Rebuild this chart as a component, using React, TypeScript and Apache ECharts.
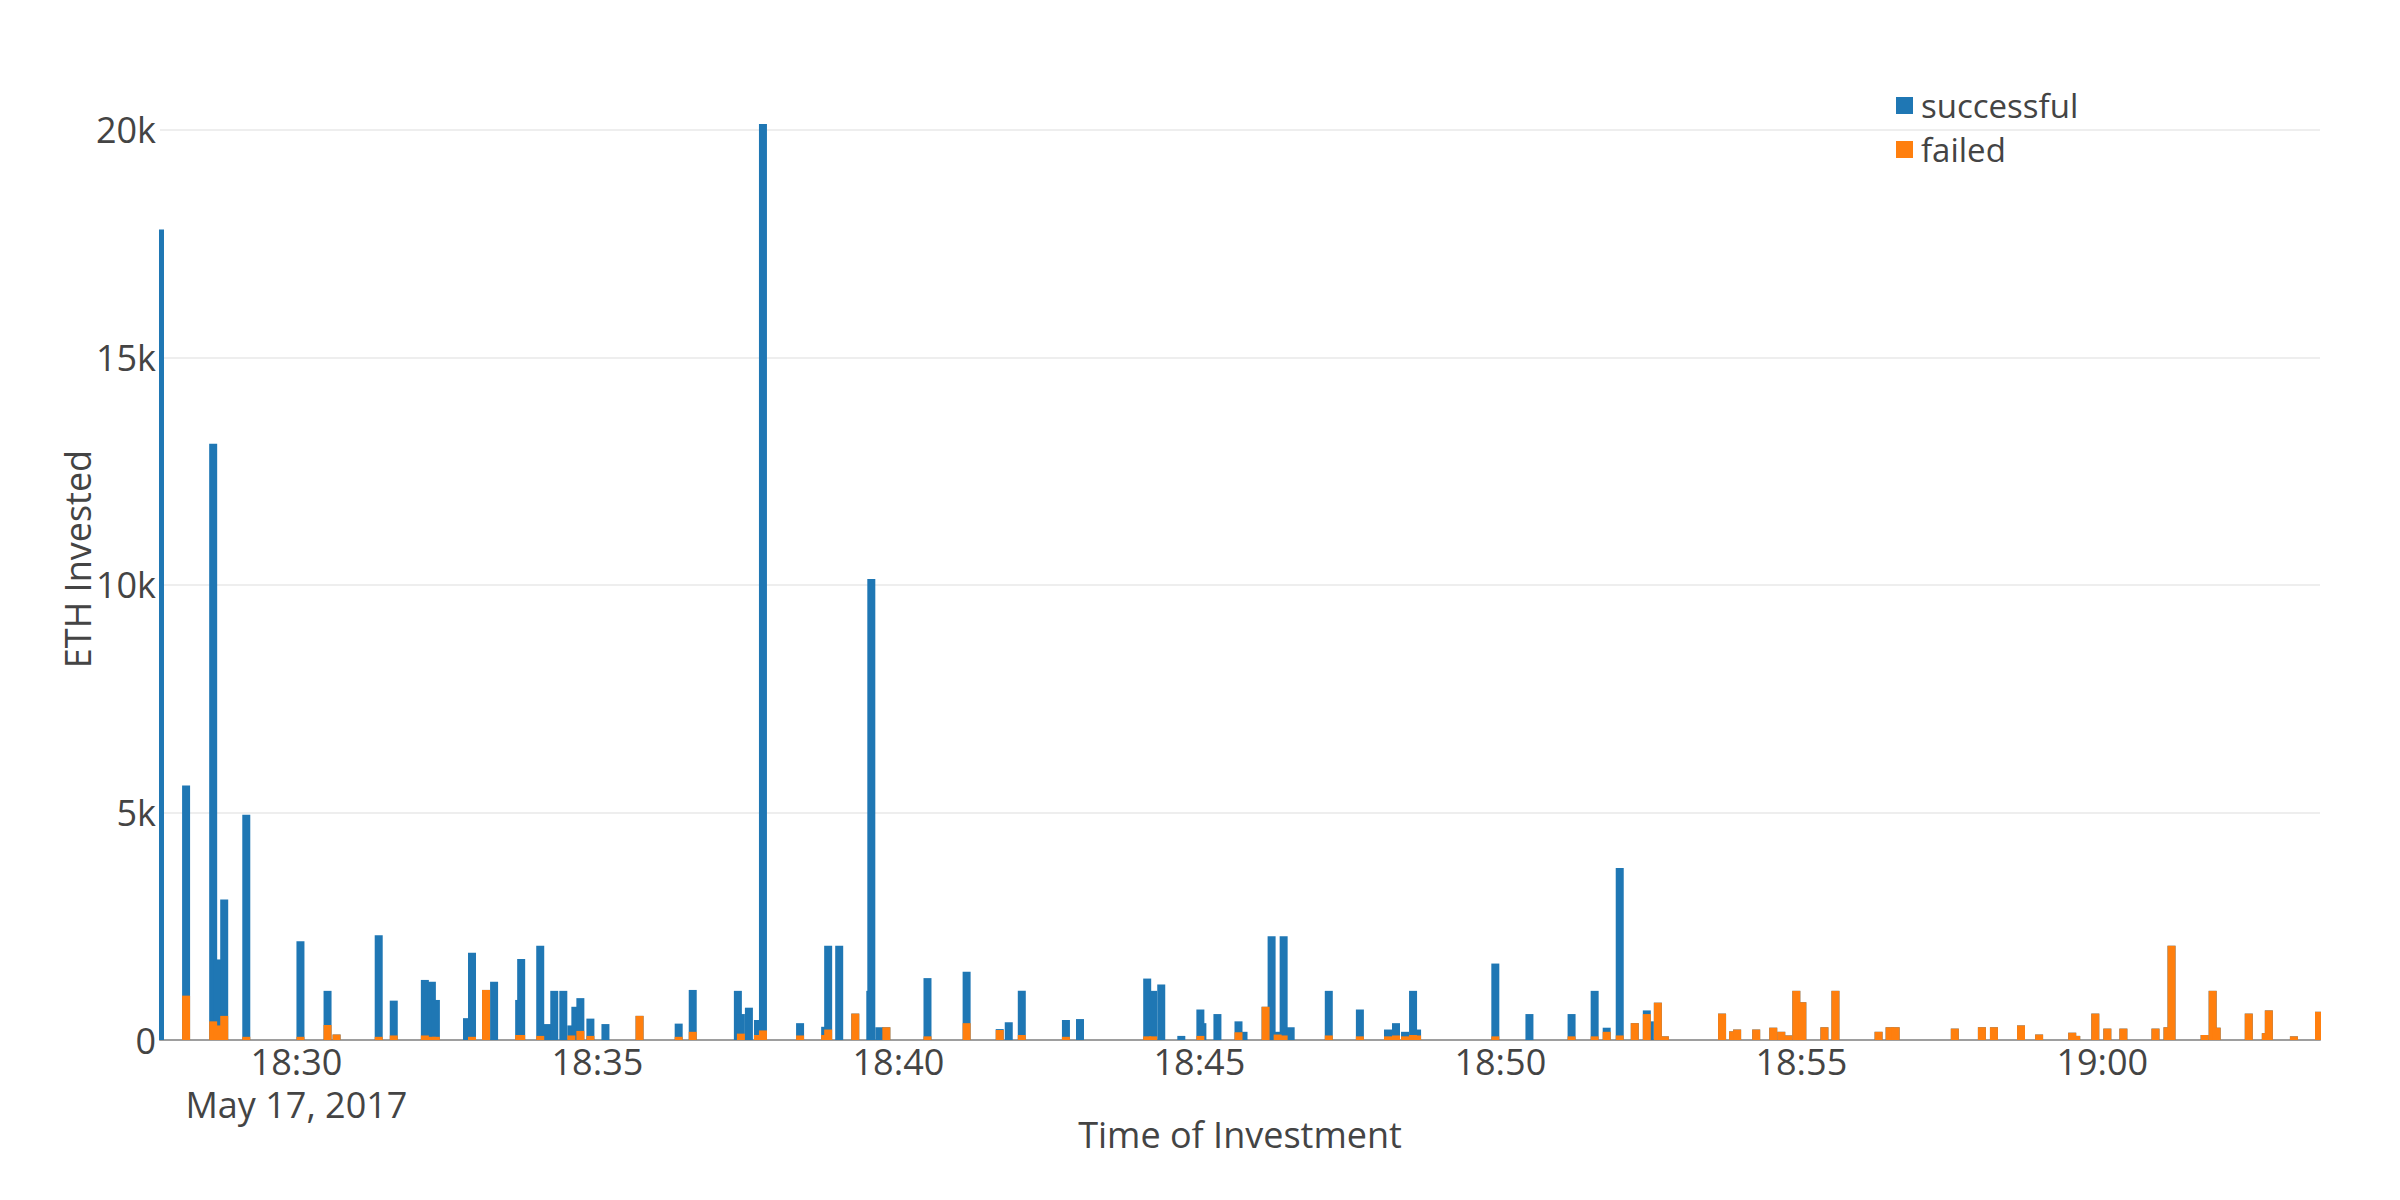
import React, { useEffect, useRef } from "react";
import * as echarts from "echarts";

// Block timestamps (May 17, 2017)
const times: string[] = [
  "18:27:44", "18:28:10", "18:28:37", "18:28:41", "18:28:48", "18:29:10", "18:30:04", "18:30:31",
  "18:30:40", "18:31:22", "18:31:37", "18:32:08", "18:32:15", "18:32:19", "18:32:50", "18:32:55",
  "18:33:09", "18:33:17", "18:33:42", "18:33:44", "18:34:03", "18:34:10", "18:34:17", "18:34:26",
  "18:34:34", "18:34:38", "18:34:43", "18:34:53", "18:35:08", "18:35:42", "18:36:21", "18:36:35",
  "18:37:20", "18:37:23", "18:37:31", "18:37:40", "18:37:45", "18:38:22", "18:38:47", "18:38:50",
  "18:39:01", "18:39:17", "18:39:32", "18:39:33", "18:39:41", "18:39:48", "18:40:29", "18:41:08",
  "18:41:41", "18:41:50", "18:42:03", "18:42:47", "18:43:01", "18:44:08", "18:44:14", "18:44:22",
  "18:44:42", "18:45:01", "18:45:03", "18:45:18", "18:45:39", "18:45:44", "18:46:06", "18:46:12",
  "18:46:18", "18:46:24", "18:46:31", "18:47:09", "18:47:40", "18:48:08", "18:48:16", "18:48:25",
  "18:48:33", "18:48:37", "18:49:55", "18:50:29", "18:51:11", "18:51:34", "18:51:46", "18:51:59",
  "18:52:14", "18:52:26", "18:52:29", "18:52:37", "18:52:44", "18:53:41", "18:53:52", "18:53:56",
  "18:54:15", "18:54:32", "18:54:40", "18:54:47", "18:54:55", "18:55:01", "18:55:23", "18:55:34",
  "18:56:17", "18:56:28", "18:56:34", "18:57:33", "18:58:00", "18:58:12", "18:58:39", "18:58:57",
  "18:59:30", "18:59:34", "18:59:53", "19:00:05", "19:00:21", "19:00:53", "19:01:05", "19:01:09",
  "19:01:42", "19:01:50", "19:01:54", "19:02:26", "19:02:43", "19:02:46", "19:03:11", "19:03:36",
];

// ETH invested by successful transactions in each block
const successful: number[] = [
  17810, 4615, 12690, 1450, 2560, 4880, 2100, 750,
  0, 2230, 765, 1220, 1210, 810, 480, 1850,
  0, 1280, 770, 1670, 1980, 350, 1080, 1080,
  220, 730, 720, 380, 350, 0, 290, 920,
  1080, 430, 710, 330, 19920, 270, 180, 1840,
  2070, 0, 1080, 10130, 280, 0, 1280, 1130,
  20, 390, 970, 370, 460, 1270, 1000, 1220,
  90, 580, 370, 570, 240, 180, 0, 2280,
  60, 2180, 280, 980, 590, 150, 270, 100,
  970, 130, 1600, 570, 490, 1000, 90, 3680,
  0, 80, 410, 0, 0, 0, 0, 0,
  0, 0, 0, 0, 0, 0, 0, 0,
  0, 0, 0, 0, 0, 0, 0, 0,
  0, 0, 0, 0, 0, 0, 0, 0,
  0, 0, 0, 0, 0, 0, 0, 0,
];

// ETH sent by failed transactions in each block
const failed: number[] = [
  0, 975, 410, 320, 530, 70, 70, 330,
  120, 70, 100, 100, 70, 70, 0, 70,
  1100, 0, 110, 110, 90, 0, 0, 0,
  100, 0, 200, 90, 0, 530, 70, 180,
  0, 140, 0, 110, 210, 100, 110, 230,
  0, 580, 0, 0, 0, 280, 80, 370,
  220, 0, 110, 70, 0, 80, 80, 0,
  0, 90, 0, 0, 170, 0, 730, 0,
  120, 100, 0, 100, 80, 80, 100, 80,
  110, 100, 80, 0, 80, 80, 180, 100,
  370, 570, 0, 820, 80, 580, 190, 230,
  230, 270, 180, 100, 1080, 830, 280, 1080,
  180, 280, 280, 250, 280, 280, 320, 120,
  160, 90, 580, 250, 250, 250, 280, 2070,
  110, 1080, 270, 580, 150, 650, 80, 620,
];

const xTickTimes: string[] = ["18:30", "18:35", "18:40", "18:45", "18:50", "18:55", "19:00"];
const dateLabel = "May 17, 2017";
const xRange: string[] = ["18:27:44", "19:03:37"];
const yMax = 21140;
const yInterval = 5000;

const ORIGIN = 18 * 3600 + 30 * 60;
const toSec = (s: string): number => {
  const p = s.split(":").map(Number);
  return p[0] * 3600 + p[1] * 60 + (p[2] || 0) - ORIGIN;
};
const pad = (n: number) => (n < 10 ? "0" + n : "" + n);
const fmtTime = (v: number): string => {
  const t = Math.round(v + ORIGIN);
  const h = Math.floor(t / 3600);
  const m = Math.floor((t % 3600) / 60);
  return pad(h) + ":" + pad(m);
};

const FONT = "'Open Sans', 'DejaVu Sans', sans-serif";
const TEXT = "#444";

export default function App() {
  const ref = useRef<HTMLDivElement>(null);

  useEffect(() => {
    if (!ref.current) return;
    const chart = echarts.init(ref.current, undefined, { renderer: "svg" });
    const xs = times.map(toSec);
    const ticks = xTickTimes.map(toSec);
    const first = ticks[0];

    chart.setOption({
      animation: false,
      backgroundColor: "#ffffff",
      textStyle: { fontFamily: FONT, color: TEXT },
      grid: { left: 160, right: 80, top: 78, bottom: 160, containLabel: false, outerBoundsMode: "none" },
      legend: {
        data: ["successful", "failed"],
        orient: "vertical",
        left: 1896,
        top: 89,
        padding: 0,
        itemWidth: 17,
        itemHeight: 17,
        itemGap: 11,
        icon: "rect",
        textStyle: { fontFamily: FONT, fontSize: 33, color: TEXT, lineHeight: 33, padding: [0, 0, 0, 3] },
      },
      xAxis: {
        type: "value",
        min: toSec(xRange[0]),
        max: toSec(xRange[1]),
        name: "Time of Investment",
        nameLocation: "middle",
        nameGap: 76,
        nameMoveOverlap: false,
        nameTextStyle: { fontFamily: FONT, fontSize: 36, color: TEXT },
        axisLine: { show: true, onZero: true, lineStyle: { color: "#9e9e9e", width: 2 } },
        axisTick: { show: false },
        splitLine: { show: false },
        axisLabel: {
          customValues: ticks,
          fontFamily: FONT,
          fontSize: 36,
          color: TEXT,
          lineHeight: 43,
          margin: 0,
          formatter: (v: number) => (Math.abs(v - first) < 0.5 ? fmtTime(v) + "\n" + dateLabel : fmtTime(v)),
        },
      },
      yAxis: {
        type: "value",
        min: 0,
        max: yMax,
        interval: yInterval,
        name: "ETH Invested",
        nameLocation: "middle",
        nameGap: 65,
        nameMoveOverlap: false,
        nameTextStyle: { fontFamily: FONT, fontSize: 36, color: TEXT },
        axisLine: { show: false },
        axisTick: { show: false },
        splitLine: { show: true, showMaxLine: false, showMinLine: false, lineStyle: { color: "#eeeeee", width: 2 } },
        axisLabel: {
          fontFamily: FONT,
          fontSize: 36,
          color: TEXT,
          margin: 4,
          showMaxLabel: false,
          formatter: (v: number) => (v % yInterval !== 0 ? "" : v === 0 ? "0" : v / 1000 + "k"),
        },
      },
      series: [
        {
          // stacked total: successful sits on top of failed
          name: "successful",
          type: "bar",
          barWidth: 8,
          barGap: "-100%",
          clip: true,
          itemStyle: { color: "#1f77b4" },
          emphasis: { disabled: true },
          data: xs.map((x, i) => [x, successful[i] + failed[i]]),
        },
        {
          name: "failed",
          type: "bar",
          barWidth: 8,
          barGap: "-100%",
          clip: true,
          itemStyle: { color: "#ff7f0e" },
          emphasis: { disabled: true },
          data: xs.map((x, i) => [x, failed[i]]),
        },
      ],
    });
    return () => chart.dispose();
  }, []);

  return (
    <div
      ref={ref}
      style={{ position: "fixed", left: 0, top: 0, width: 2400, height: 1200, background: "#fff" }}
    />
  );
}
